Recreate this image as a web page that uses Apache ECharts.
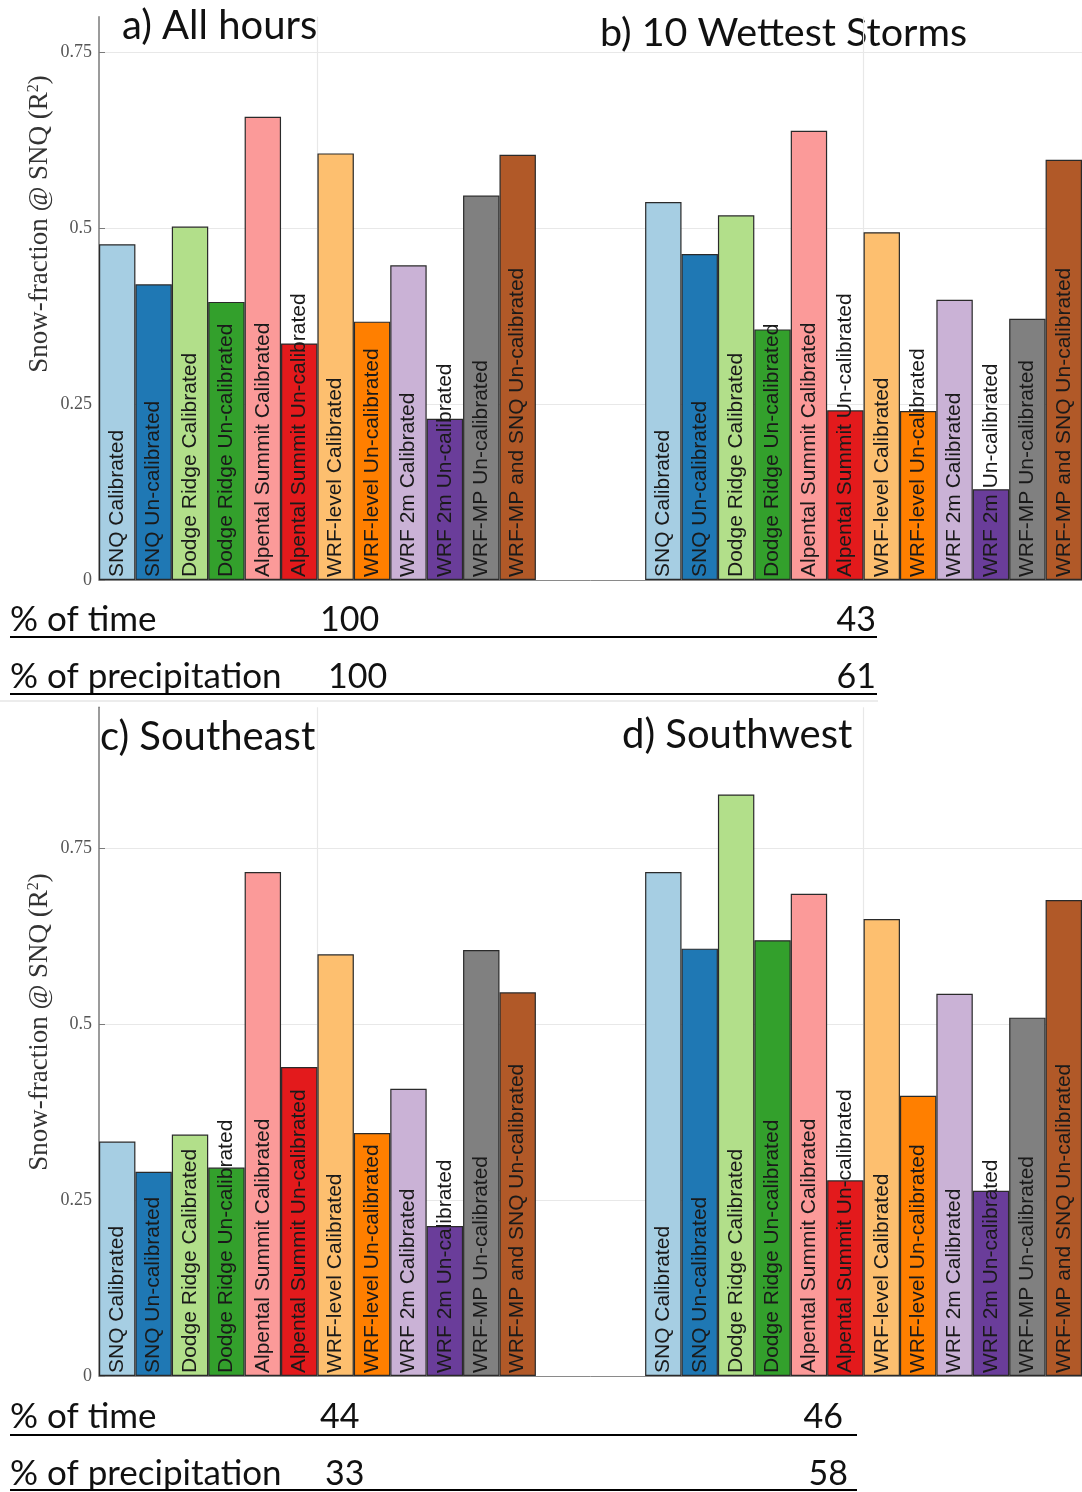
<!DOCTYPE html>
<html>
<head>
<meta charset="utf-8">
<title>Snow-fraction skill at SNQ</title>
<script src="https://cdn.jsdelivr.net/npm/echarts@6/dist/echarts.min.js"></script>
<style>
  html, body { margin: 0; padding: 0; background: #ffffff; }
  #chart { width: 1082px; height: 1492px; }
</style>
</head>
<body>
<div id="chart"></div>
<script>
// Snow-fraction methods, in plotting order within each group of bars
const stationNames = [
  'SNQ Calibrated', 'SNQ Un-calibrated',
  'Dodge Ridge Calibrated', 'Dodge Ridge Un-calibrated',
  'Alpental Summit Calibrated', 'Alpental Summit Un-calibrated',
  'WRF-level Calibrated', 'WRF-level Un-calibrated',
  'WRF 2m Calibrated', 'WRF 2m Un-calibrated',
  'WRF-MP Un-calibrated', 'WRF-MP and SNQ Un-calibrated'
];
const barColors = [
  '#a6cee3', '#1f78b4', '#b2df8a', '#33a02c', '#fb9a99', '#e31a1c',
  '#fdbf6f', '#ff7f00', '#cab2d6', '#6a3d9a', '#808080', '#b15928'
];

// R^2 values per method
const allHours      = [0.477, 0.420, 0.502, 0.395, 0.658, 0.336, 0.606, 0.367, 0.447, 0.229, 0.546, 0.604];
const wettestStorms = [0.537, 0.463, 0.518, 0.356, 0.638, 0.241, 0.494, 0.240, 0.398, 0.129, 0.371, 0.597];
const southeast     = [0.333, 0.290, 0.343, 0.296, 0.716, 0.439, 0.599, 0.345, 0.408, 0.213, 0.605, 0.545];
const southwest     = [0.716, 0.607, 0.826, 0.619, 0.685, 0.278, 0.649, 0.398, 0.543, 0.263, 0.509, 0.676];

const panelTitles = ['a) All hours', 'b) 10 Wettest Storms', 'c) Southeast', 'd) Southwest'];
const footerRowNames = ['% of time', '% of precipitation'];
const pctTimeTop = [100, 43];
const pctPrecipTop = [100, 61];
const pctTimeBottom = [44, 46];
const pctPrecipBottom = [33, 58];

const yTickStep = 0.25;
const gapSlots = 3;

// ---- layout ----
const PX_PER_UNIT = 704;
const PLOT_LEFT = 99;
const titleFont = 'Lato, "Open Sans", sans-serif';
const serifFont = '"Liberation Serif", "DejaVu Serif", serif';
const labelFont = '"Liberation Sans", Arial, sans-serif';

const panels = [
  { left: allHours,  right: wettestStorms, yMax: 0.8,  zeroY: 580,  gridAt: [6, 21] },
  { left: southeast, right: southwest,     yMax: 0.95, zeroY: 1376, gridAt: [6, 21] }
];

const slotNames = [...stationNames, ...new Array(gapSlots).fill(''), ...stationNames];
const slotIds = slotNames.map((_, i) => String(i));

function barItems(values) {
  return values.map((v, i) => ({ value: v, itemStyle: { color: barColors[i] } }));
}

const grids = [], xAxes = [], yAxes = [], series = [];
panels.forEach((p, k) => {
  const height = p.yMax * PX_PER_UNIT;
  grids.push({
    left: PLOT_LEFT, right: 0, top: p.zeroY - height, height: height,
    containLabel: false, outerBoundsMode: 'none'
  });
  xAxes.push({
    type: 'category', gridIndex: k, data: slotIds, boundaryGap: true,
    axisLine: { show: true, lineStyle: { color: '#8a8a8a', width: 1 } },
    axisTick: { show: false }, axisLabel: { show: false },
    splitLine: {
      show: true,
      interval: (idx) => p.gridAt.includes(idx),
      lineStyle: { color: '#e8e8e8', width: 1.2 }
    }
  });
  yAxes.push({
    type: 'value', gridIndex: k, min: 0, max: p.yMax, interval: yTickStep,
    axisLine: { show: true, lineStyle: { color: '#7a7a7a', width: 1.5 } },
    axisTick: { show: true, inside: true, length: 6, lineStyle: { color: '#7a7a7a' } },
    axisLabel: {
      showMaxLabel: false, margin: 7, fontFamily: serifFont, fontSize: 18, color: '#555'
    },
    splitLine: { show: true, showMaxLine: false, lineStyle: { color: '#e8e8e8', width: 1.2 } }
  });
  series.push({
    type: 'bar', xAxisIndex: k, yAxisIndex: k,
    barCategoryGap: '0%',
    data: [...barItems(p.left), ...new Array(gapSlots).fill('-'), ...barItems(p.right)],
    itemStyle: { borderColor: '#2a2a2a', borderWidth: 1.2 },
    label: {
      show: true, position: 'insideBottom', distance: 3, rotate: 90,
      align: 'left', verticalAlign: 'middle',
      fontFamily: labelFont, fontSize: 21, color: '#1a1a1a',
      formatter: (prm) => slotNames[prm.dataIndex]
    },
    emphasis: { disabled: true },
    animation: false
  });
});

// ---- texts and rules drawn around the plots ----
const graphic = [];
function addText(text, x, y, size, opts) {
  graphic.push(Object.assign({
    type: 'text', x: x, y: y, silent: true,
    style: Object.assign({
      text: text, fontFamily: titleFont, fontSize: size, fill: '#111',
      align: 'left', verticalAlign: 'middle'
    }, opts || {})
  }));
}
function addRule(x1, x2, y, w, color) {
  graphic.push({
    type: 'line', silent: true,
    shape: { x1: x1, y1: y, x2: x2, y2: y },
    style: { stroke: color || '#000', lineWidth: w || 2 }
  });
}

// panel titles
addText(panelTitles[0], 122, 26, 40);
addText(panelTitles[1], 600, 33, 39.5);
addText(panelTitles[2], 100, 737, 40);
addText(panelTitles[3], 622, 735, 40);

// y-axis names
[224, 1022].forEach((cy) => {
  graphic.push({
    type: 'text', x: 40, y: cy, rotation: Math.PI / 2, silent: true,
    style: {
      text: 'Snow-fraction @ SNQ (R{sup|2})',
      fontFamily: serifFont, fontSize: 27, fill: '#333',
      align: 'center', verticalAlign: 'middle',
      rich: { sup: { fontFamily: serifFont, fontSize: 16, verticalAlign: 'top', fill: '#333', padding: [0, 0, 12, 0] } }
    }
  });
});

// footer rows under each panel
const footers = [
  { rows: [pctTimeTop, pctPrecipTop], textY: [620, 677], ruleY: [637, 694], ruleEnd: 877,
    firstX: [320, 328], secondRight: [876, 876] },
  { rows: [pctTimeBottom, pctPrecipBottom], textY: [1417, 1474], ruleY: [1435, 1490], ruleEnd: 857,
    firstX: [320, 325], secondRight: [843, 848] }
];
footers.forEach((f) => {
  f.rows.forEach((vals, r) => {
    addText(footerRowNames[r], 10, f.textY[r], 35);
    addText(String(vals[0]), f.firstX[r], f.textY[r], 34);
    addText(String(vals[1]), f.secondRight[r], f.textY[r], 34, { align: 'right' });
    addRule(10, f.ruleEnd, f.ruleY[r], 2);
  });
});
// faint separator between the two panels
addRule(0, 878, 701, 2, '#ececec');

const chart = echarts.init(document.getElementById('chart'), null, { renderer: 'canvas' });
chart.setOption({
  backgroundColor: '#ffffff',
  animation: false,
  grid: grids,
  xAxis: xAxes,
  yAxis: yAxes,
  series: series,
  graphic: graphic
});
</script>
</body>
</html>
